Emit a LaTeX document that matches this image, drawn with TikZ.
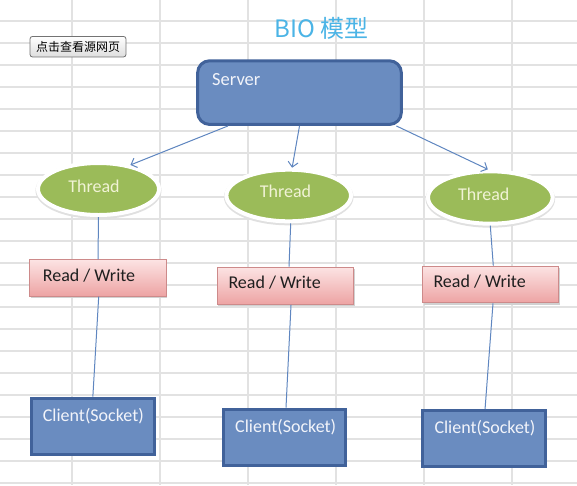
\documentclass[tikz,border=0pt]{standalone}
\usepackage{fontspec}
\setmainfont{Carlito}
\newfontfamily\cjk{Noto Sans CJK SC}
\usetikzlibrary{arrows.meta,shapes.geometric,calc}
\definecolor{gridc}{HTML}{E2E2E2}
\definecolor{boxfill}{HTML}{6A8CC0}
\definecolor{boxborder}{HTML}{41629A}
\definecolor{greenfill}{HTML}{9BBB59}
\definecolor{greentext}{HTML}{F1F3D6}
\definecolor{pinktop}{HTML}{FCE3E3}
\definecolor{pinkbot}{HTML}{EDA3A3}
\definecolor{pinkborder}{HTML}{CD8A8A}
\definecolor{linec}{HTML}{5F86C0}
\definecolor{titleblue}{HTML}{4BB4E6}
\definecolor{boxtext}{HTML}{F2F4FA}
\tikzset{
  gridline/.style={draw=gridc, line width=1.5pt},
  bluebox/.style={rectangle, fill=boxfill, draw=boxborder, line width=3pt, inner sep=0pt},
  serverbox/.style={bluebox, rounded corners=12pt},
  threadshape/.style={ellipse, fill=greenfill, draw=white, line width=4pt, inner sep=0pt,
     preaction={draw=black!12, line width=5pt, transform canvas={yshift=-1.5pt}}},
  rwbox/.style={rectangle, top color=pinktop, bottom color=pinkbot, draw=pinkborder, line width=1pt, inner sep=0pt,
     preaction={fill=black!18, transform canvas={xshift=1pt, yshift=-2pt}}},
  lbl/.style={inner sep=0pt, font=\fontsize{18}{21}\selectfont},
  boxlbl/.style={lbl, text=boxtext},
  threadlbl/.style={lbl, text=greentext, anchor=base},
  rwlbl/.style={lbl, text=black!88, anchor=base west},
  conn/.style={draw=linec, line width=1pt},
  arr/.style={conn, -{Straight Barb[length=5pt, width=10pt]}},
  btn/.style={rectangle, rounded corners=2.5pt, top color=white, bottom color=black!13, draw=black!55, line width=0.8pt,
     inner sep=0pt, font=\cjk\fontsize{12}{14}\selectfont},
}
\begin{document}
\begin{tikzpicture}[x=1pt, y=-1pt]
\useasboundingbox (0,0) rectangle (577,485);
\fill[white] (0,0) rectangle (577,485);
% spreadsheet grid
\foreach \x in {72,160,248,336,424,512} \draw[gridline] (\x,0) -- (\x,485);
\foreach \k in {0,...,21} \draw[gridline] (0,{21+22*\k}) -- (577,{21+22*\k});

% button and title
\node[btn, minimum width=96pt, minimum height=20.5pt] (btn) at (78,46.7) {点击查看源网页};
\node[anchor=base, inner sep=0pt, text=titleblue, font=\cjk\fontsize{24}{28}\selectfont] (title) at (321.5,37.3) {BIO 模型};

% server
\node[serverbox, minimum width=203.7pt, minimum height=63.7pt] (server) at (299.5,92.6) {};
\node[boxlbl, anchor=base west, font=\fontsize{18.5}{21}\selectfont] (serverlbl) at (212,85) {Server};

% threads
\node[threadshape, minimum width=121pt, minimum height=52pt] (t1) at (98.5,189) {};
\node[threadshape, minimum width=124.6pt, minimum height=51.6pt] (t2) at (288.7,195.5) {};
\node[threadshape, minimum width=124.6pt, minimum height=52.4pt] (t3) at (490.3,197.5) {};
\node[threadlbl] (t1lbl) at (94,192.7) {Thread};
\node[threadlbl] (t2lbl) at (285.5,197.7) {Thread};
\node[threadlbl] (t3lbl) at (483.7,200) {Thread};

% read / write
\node[rwbox, minimum width=136.4pt, minimum height=36.4pt] (rw1) at (98,278) {};
\node[rwbox, minimum width=136.6pt, minimum height=37.3pt] (rw2) at (285.5,285.8) {};
\node[rwbox, minimum width=135.7pt, minimum height=36.6pt] (rw3) at (490.7,284.5) {};
\node[rwlbl] (rw1lbl) at (42.7,281.7) {Read / Write};
\node[rwlbl] (rw2lbl) at (228.3,288.3) {Read / Write};
\node[rwlbl] (rw3lbl) at (433.3,287.3) {Read / Write};

% clients
\node[bluebox, minimum width=122.7pt, minimum height=56.3pt] (c1) at (92.85,426.35) {};
\node[bluebox, minimum width=122pt, minimum height=56pt] (c2) at (284.8,437.2) {};
\node[bluebox, minimum width=122.7pt, minimum height=56.3pt] (c3) at (483.85,438.65) {};
\node[boxlbl, anchor=base west] (c1lbl) at (42.7,421) {Client(Socket)};
\node[boxlbl, anchor=base west] (c2lbl) at (235,432.3) {Client(Socket)};
\node[boxlbl, anchor=base west] (c3lbl) at (434.3,433.3) {Client(Socket)};

% connectors
\draw[arr] (server.205) -- (t1.37);
\draw[arr] (server.south) -- (t2.83);
\draw[arr] (server.-19) -- (t3.95);
\draw[conn] (t1.south) -- (rw1.north);
\draw[conn] ([xshift=0.7pt]rw1.south) -- (c1.north);
\draw[conn] ([xshift=2pt]t2.south) -- ([xshift=3.5pt]rw2.north);
\draw[conn] ([xshift=5.5pt]rw2.south) -- ([xshift=1.2pt]c2.north);
\draw[conn] (t3.south) -- ([xshift=2.6pt]rw3.north);
\draw[conn] ([xshift=2.3pt]rw3.south) -- ([xshift=1.2pt]c3.north);
\end{tikzpicture}
\end{document}
